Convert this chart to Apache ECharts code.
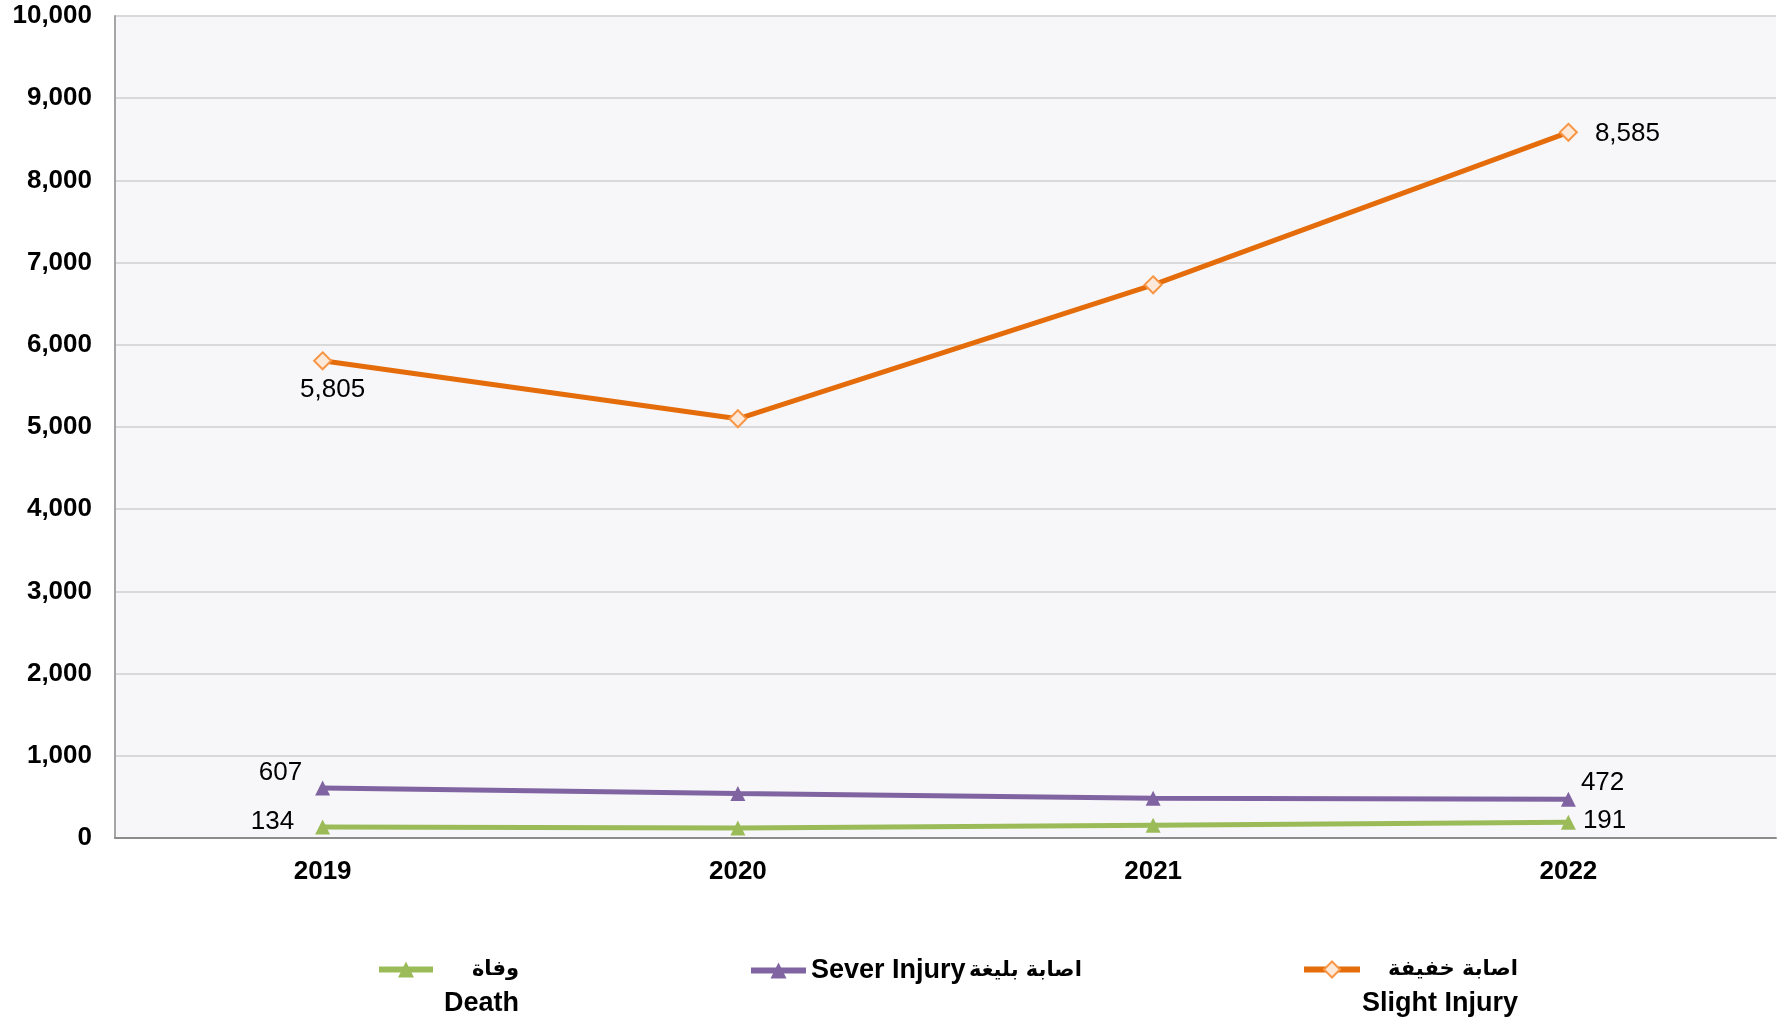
<!DOCTYPE html>
<html>
<head>
<meta charset="utf-8">
<script src="https://cdn.jsdelivr.net/npm/echarts@6/dist/echarts.min.js"></script>
<style>html,body{margin:0;padding:0;background:#fff}#c{width:1785px;height:1021px}</style>
</head>
<body>
<div id="c"></div>
<script>
var years = ['2019', '2020', '2021', '2022'];
var deathValues = [134, 122, 155, 191];
var severValues = [607, 540, 485, 472];
var slightValues = [5805, 5100, 6730, 8585];
var yTicks = [0, 1000, 2000, 3000, 4000, 5000, 6000, 7000, 8000, 9000, 10000];

var deathName = 'وفاة Death';
var severName = 'Sever Injury اصابة بليغة';
var slightName = 'اصابة خفيفة Slight Injury';

var FONT = 'Liberation Sans, Arial, DejaVu Sans, sans-serif';
function fmt(v) { return v.toString().replace(/\B(?=(\d{3})+(?!\d))/g, ','); }

function buildData(values, firstLabel, lastLabel) {
  return values.map(function (v, i) {
    var item = { value: v };
    if (i === 0 && firstLabel) item.label = Object.assign({ show: true }, firstLabel);
    else if (i === values.length - 1 && lastLabel) item.label = Object.assign({ show: true }, lastLabel);
    return item;
  });
}

var labelBase = { color: '#000', fontSize: 26, fontFamily: FONT, formatter: function (p) { return fmt(p.value); } };
var arStyle = { fontSize: 21, fontWeight: 'bold', fontFamily: 'DejaVu Sans, sans-serif', color: '#000', lineHeight: 34 };
var enStyle = { fontSize: 27, fontWeight: 'bold', fontFamily: FONT, color: '#000', lineHeight: 34 };

var chart = echarts.init(document.getElementById('c'));
chart.setOption({
  animation: false,
  backgroundColor: '#fff',
  grid: { left: 115, right: 9, top: 16, bottom: 183, show: true, backgroundColor: '#F7F7F9', borderWidth: 0 },
  xAxis: {
    type: 'category', data: years, boundaryGap: true,
    axisLine: { show: true, lineStyle: { color: '#8C8C8C', width: 2 } },
    axisTick: { show: false },
    axisLabel: { color: '#000', fontSize: 26, fontWeight: 'bold', fontFamily: FONT, margin: 21 }
  },
  yAxis: {
    type: 'value', min: yTicks[0], max: yTicks[yTicks.length - 1], interval: 1000,
    axisLine: { show: true, lineStyle: { color: '#A6A6A6', width: 2 } },
    axisTick: { show: false },
    splitLine: { show: true, lineStyle: { color: '#D9D9D9', width: 2 } },
    axisLabel: { color: '#000', fontSize: 26, fontWeight: 'bold', fontFamily: FONT, margin: 23, padding: [6, 0, 0, 0], formatter: fmt }
  },
  legend: [
    {
      data: [deathName], left: 376, top: 959, padding: 0, itemWidth: 54, itemHeight: 20,
      lineStyle: { width: 6 },
      formatter: function () { return '{a|وفاة}\n{b|Death}'; },
      textStyle: {
        padding: [34, 0, 0, 0],
        rich: {
          a: Object.assign({ width: 81, align: 'right' }, arStyle),
          b: Object.assign({ width: 71, align: 'right' }, enStyle)
        }
      }
    },
    {
      data: [severName], left: 748, top: 957, padding: 0, itemWidth: 55, itemHeight: 20,
      lineStyle: { width: 6 },
      formatter: function () { return '{b|Sever Injury} {a|اصابة بليغة}'; },
      textStyle: {
        rich: { a: arStyle, b: enStyle }
      }
    },
    {
      data: [slightName], left: 1301, top: 959, padding: 0, itemWidth: 56, itemHeight: 20,
      lineStyle: { width: 6 },
      formatter: function () { return '{a|اصابة خفيفة}\n{b|Slight Injury}'; },
      textStyle: {
        padding: [34, 0, 0, 0],
        rich: {
          a: Object.assign({ width: 153, align: 'right' }, arStyle),
          b: Object.assign({ width: 153, align: 'right' }, enStyle)
        }
      }
    }
  ],
  series: [
    {
      name: slightName, type: 'line', z: 3,
      data: buildData(slightValues,
        Object.assign({}, labelBase, { position: 'bottom', offset: [10, 1] }),
        Object.assign({}, labelBase, { position: 'right', offset: [12, 2] })),
      lineStyle: { color: '#E46C0A', width: 5 },
      itemStyle: { color: '#FDE9D9', borderColor: '#F79646', borderWidth: 2 },
      symbol: 'diamond', symbolSize: 17, showSymbol: true
    },
    {
      name: severName, type: 'line', z: 2,
      data: buildData(severValues,
        Object.assign({}, labelBase, { position: 'left', offset: [-8, -15] }),
        Object.assign({}, labelBase, { position: 'right', offset: [0, -16] })),
      lineStyle: { color: '#8064A2', width: 5 },
      itemStyle: { color: '#8064A2' },
      symbol: 'triangle', symbolSize: 15
    },
    {
      name: deathName, type: 'line', z: 2,
      data: buildData(deathValues,
        Object.assign({}, labelBase, { position: 'left', offset: [-16, -5] }),
        Object.assign({}, labelBase, { position: 'right', offset: [2, -1] })),
      lineStyle: { color: '#9BBB59', width: 5 },
      itemStyle: { color: '#9BBB59' },
      symbol: 'triangle', symbolSize: 15
    }
  ]
});
</script>
</body>
</html>
